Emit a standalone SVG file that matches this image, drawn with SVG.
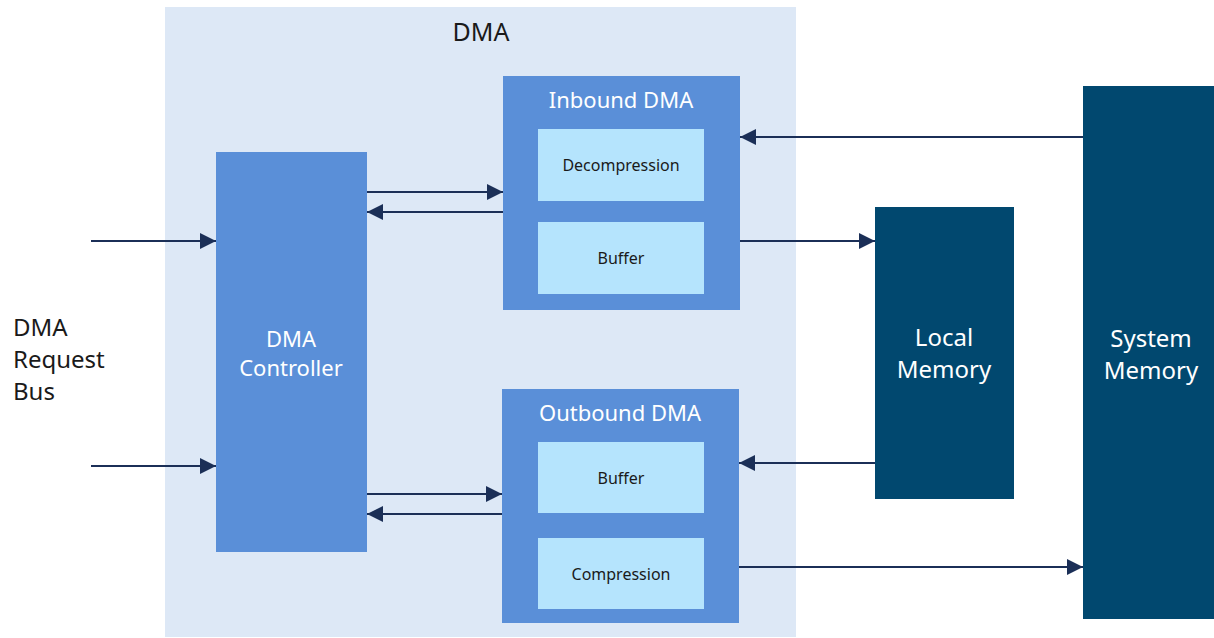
<svg xmlns="http://www.w3.org/2000/svg" width="1214" height="638" viewBox="0 0 1214 638">
  <defs>
    <marker id="arrow" viewBox="0 0 10 10" refX="10" refY="5" markerWidth="16" markerHeight="16" markerUnits="userSpaceOnUse" orient="auto">
      <path d="M0,0 L10,5 L0,10 Z" fill="#1b2f57"/>
    </marker>
    <style>
      .lbl { font-family: "Noto Sans", "Open Sans", sans-serif; text-anchor: middle; }
      .wht { fill: #ffffff; }
      .blk { fill: #1a1a1a; }
      .mid { fill: #5a8fd8; }
      .lite { fill: #b5e4fd; }
      .dark { fill: #01486f; }
      .conn { stroke: #1b2f57; stroke-width: 2; fill: none; marker-end: url(#arrow); }
    </style>
  </defs>

  <rect width="1214" height="638" fill="#ffffff"/>

  <!-- DMA enclosure -->
  <g id="dma">
    <rect x="165" y="7" width="631" height="630" fill="#dde8f6"/>
    <text class="lbl blk" x="481" y="41" font-size="25">DMA</text>
  </g>

  <g id="request-bus">
    <text class="lbl blk" x="13" y="336" font-size="24" style="text-anchor:start">DMA</text>
    <text class="lbl blk" x="13" y="368" font-size="24" style="text-anchor:start">Request</text>
    <text class="lbl blk" x="13" y="400" font-size="24" style="text-anchor:start">Bus</text>
  </g>

  <g id="dma-controller">
    <rect class="mid" x="216" y="152" width="151" height="400"/>
    <text class="lbl wht" x="291" y="347" font-size="22">DMA</text>
    <text class="lbl wht" x="291" y="376" font-size="22">Controller</text>
  </g>

  <g id="inbound-dma">
    <rect class="mid" x="503" y="76" width="237" height="234"/>
    <text class="lbl wht" x="621" y="108" font-size="22">Inbound DMA</text>
    <g id="decompression">
      <rect class="lite" x="538" y="129" width="166" height="72"/>
      <text class="lbl blk" x="621" y="171" font-size="16">Decompression</text>
    </g>
    <g id="inbound-buffer">
      <rect class="lite" x="538" y="222" width="166" height="72"/>
      <text class="lbl blk" x="621" y="264" font-size="16">Buffer</text>
    </g>
  </g>

  <g id="outbound-dma">
    <rect class="mid" x="502" y="389" width="237" height="234"/>
    <text class="lbl wht" x="620" y="421" font-size="22">Outbound DMA</text>
    <g id="outbound-buffer">
      <rect class="lite" x="538" y="442" width="166" height="71"/>
      <text class="lbl blk" x="621" y="484" font-size="16">Buffer</text>
    </g>
    <g id="compression">
      <rect class="lite" x="538" y="538" width="166" height="71"/>
      <text class="lbl blk" x="621" y="580" font-size="16">Compression</text>
    </g>
  </g>

  <g id="local-memory">
    <rect class="dark" x="875" y="207" width="139" height="292"/>
    <text class="lbl wht" x="944" y="346" font-size="24">Local</text>
    <text class="lbl wht" x="944" y="378" font-size="24">Memory</text>
  </g>

  <g id="system-memory">
    <rect class="dark" x="1083" y="86" width="131" height="533"/>
    <text class="lbl wht" x="1151" y="347" font-size="24">System</text>
    <text class="lbl wht" x="1151" y="379" font-size="24">Memory</text>
  </g>

  <g id="connectors">
    <line class="conn" x1="91" y1="241" x2="216" y2="241"/>
    <line class="conn" x1="91" y1="466" x2="216" y2="466"/>
    <line class="conn" x1="367" y1="192" x2="503" y2="192"/>
    <line class="conn" x1="503" y1="212" x2="367" y2="212"/>
    <line class="conn" x1="367" y1="494" x2="502" y2="494"/>
    <line class="conn" x1="502" y1="514" x2="367" y2="514"/>
    <line class="conn" x1="1083" y1="137" x2="740" y2="137"/>
    <line class="conn" x1="740" y1="241" x2="875" y2="241"/>
    <line class="conn" x1="875" y1="463" x2="739" y2="463"/>
    <line class="conn" x1="739" y1="567" x2="1083" y2="567"/>
  </g>
</svg>
